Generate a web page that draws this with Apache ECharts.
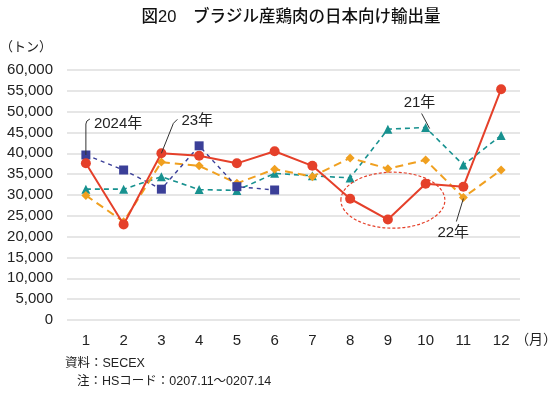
<!DOCTYPE html>
<html><head><meta charset="utf-8">
<script src="https://cdn.jsdelivr.net/npm/echarts@6/dist/echarts.min.js"></script>
<style>html,body{margin:0;padding:0;background:#fff}#c{width:550px;height:395px}</style>
</head><body><div id="c"></div>
<script>
const months = ['1','2','3','4','5','6','7','8','9','10','11','12'];
const yTicks = [0,5000,10000,15000,20000,25000,30000,35000,40000,45000,50000,55000,60000];
const s2024 = [39600,36000,31400,41800,32000,31200];
const s23 = [37600,22900,40000,39400,37600,40500,37000,29100,24100,32700,32000,55400];
const s22 = [29900,23600,37900,37000,32800,36200,34400,38900,36300,38400,29400,36000];
const s21 = [31400,31400,34400,31300,31100,35200,34600,34100,45800,46200,37200,44300];
const seriesNames = ['2024年','23年','22年','21年'];
const title = '図20　ブラジル産鶏肉の日本向け輸出量';
const unitY = '（トン）';
const unitX = '（月）';
const notes = ['資料：SECEX','注：HSコード：0207.11～0207.14'];

const FF = '"Liberation Sans", Arial, "Noto Sans CJK JP", sans-serif';
const chart = echarts.init(document.getElementById('c'), null, {renderer:'canvas'});
const C = {red:'#e5402a', orange:'#f0a020', teal:'#17918f', navy:'#3b3f98'};

chart.setOption({
  animation:false,
  backgroundColor:'#fff',
  grid:{left:67,right:30,top:70,bottom:75},
  xAxis:{type:'category',data:months,boundaryGap:true,
    axisLine:{show:false},axisTick:{show:false},
    axisLabel:{color:'#222',fontSize:15,fontFamily:FF,margin:13}},
  yAxis:{type:'value',min:0,max:60000,interval:5000,
    axisLine:{show:false},axisTick:{show:false},
    splitLine:{lineStyle:{color:'#e6e6e6',width:2}},
    axisLabel:{color:'#222',fontSize:15,fontFamily:FF,margin:14,
      formatter:v=>v.toLocaleString('en-US')}},
  series:[
    {name:seriesNames[3],type:'line',data:s21,symbol:'triangle',symbolSize:9,
     lineStyle:{color:C.teal,width:1.6,type:[5,4]},itemStyle:{color:C.teal},z:2},
    {name:seriesNames[2],type:'line',data:s22,symbol:'diamond',symbolSize:9,
     lineStyle:{color:C.orange,width:2,type:[8,5]},itemStyle:{color:C.orange},z:3},
    {name:seriesNames[0],type:'line',data:s2024,symbol:'rect',symbolSize:9,
     lineStyle:{color:C.navy,width:1.4,type:[4,4]},itemStyle:{color:C.navy},z:4},
    {name:seriesNames[1],type:'line',data:s23,symbol:'circle',symbolSize:10,
     lineStyle:{color:C.red,width:2},itemStyle:{color:C.red},z:5}
  ]
});

function px(i,v){return chart.convertToPixel({gridIndex:0},[i,v]);}
const txt = (x,y,t,opt)=>Object.assign({type:'text',x:x,y:y,style:Object.assign({text:t,fill:'#222',font:'15px '+FF,textAlign:'left',textVerticalAlign:'middle'},opt||{}),z:10});
const line = (pts)=>({type:'polyline',shape:{points:pts},style:{stroke:'#333',lineWidth:1,fill:null},z:10});

const g = [];
g.push(txt(291,17,title,{font:'500 16.5px '+FF,textAlign:'center',fill:'#111'}));
g.push(txt(26,47,unitY,{font:'13px '+FF,textAlign:'center'}));
const p12 = px(11,0);
g.push(txt(p12[0]+14,340,unitX,{font:'14px '+FF}));
g.push(txt(65,364,notes[0],{font:'12.5px '+FF}));
g.push(txt(77,382,notes[1],{font:'12.5px '+FF}));

// 2024年
let a = px(0,s2024[0]);
g.push(line([[a[0],a[1]],[a[0],a[1]-31],[a[0]+1,a[1]-34],[a[0]+4,a[1]-36]]));
g.push(txt(a[0]+8,a[1]-31,seriesNames[0]));
// 23年
a = px(2,s23[2]);
g.push(line([[a[0],a[1]],[a[0]+12,a[1]-30],[a[0]+16,a[1]-34]]));
g.push(txt(a[0]+20,a[1]-32,seriesNames[1]));
// 21年
a = px(9,s21[9]);
g.push(line([[a[0]+4,a[1]+1],[a[0]-4,a[1]-14]]));
g.push(txt(a[0]-22,a[1]-25,seriesNames[3]));
// 22年
a = px(10,s22[10]);
g.push(line([[a[0],a[1]+1],[a[0]-7,a[1]+24]]));
g.push(txt(a[0]-26,a[1]+35,seriesNames[2]));
// ellipse around months 8-10 of 23年
const e1 = px(7,s23[7]), e2 = px(9,s23[9]), e3 = px(8,s23[8]);
const cx = (e1[0]+e2[0])/2+5, cy = (e1[1]+e3[1])/2-9;
g.push({type:'ellipse',shape:{cx:cx,cy:cy,rx:52,ry:28},style:{stroke:C.red,lineWidth:1.2,lineDash:[3,2],fill:null},z:9});
chart.setOption({graphic:g});
</script></body></html>
